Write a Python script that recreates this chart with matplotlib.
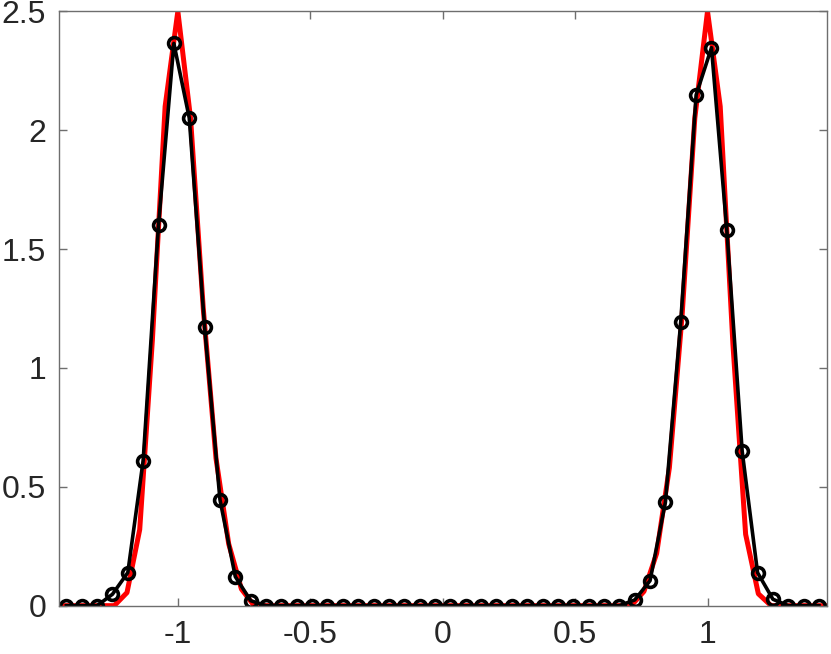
import numpy as np
import matplotlib
matplotlib.use('Agg')
import matplotlib.pyplot as plt

plt.rcParams['font.family'] = ['Liberation Sans', 'DejaVu Sans']
plt.rcParams['axes.unicode_minus'] = False

# reference solution (red)
red_x = [-1.45, -1.24, -1.192, -1.144, -1.096, -1.048, -1.0, -0.952, -0.904, -0.856, -0.808, -0.76, -0.712,
         0.712, 0.76, 0.808, 0.856, 0.904, 0.952, 1.0, 1.048, 1.096, 1.144, 1.192, 1.24, 1.45]
red_y = [0.0, 0.0, 0.055, 0.32, 1.12, 2.1, 2.5, 2.05, 1.25, 0.62, 0.26, 0.07, 0.0,
         0.0, 0.06, 0.22, 0.58, 1.22, 2.05, 2.5, 2.1, 1.1, 0.3, 0.05, 0.0, 0.0]

# numerical solution (black circles), 50 cell centres
num_y = [0.0, 0.0, 0.0, 0.048, 0.139, 0.610, 1.601, 2.365, 2.052, 1.173,
         0.446, 0.122, 0.021, 0.0, 0.0, 0.0, 0.0, 0.0, 0.0, 0.0,
         0.0, 0.0, 0.0, 0.0, 0.0, 0.0, 0.0, 0.0, 0.0, 0.0,
         0.0, 0.0, 0.0, 0.0, 0.0, 0.0, 0.0, 0.024, 0.105, 0.435,
         1.195, 2.148, 2.347, 1.579, 0.649, 0.139, 0.027, 0.0, 0.0, 0.0]
num_x = np.linspace(-1.421, 1.421, len(num_y))

xticks = [-1, -0.5, 0, 0.5, 1]
xticklabels = ['-1', '-0.5', '0', '0.5', '1']
yticks = [0, 0.5, 1, 1.5, 2, 2.5]
yticklabels = ['0', '0.5', '1', '1.5', '2', '2.5']

fig = plt.figure(figsize=(8.31, 6.54), dpi=100)
ax = fig.add_axes([0.0706, 0.0739, 0.9242, 0.9088])

ax.plot(red_x, red_y, color='red', linewidth=3.6)
ax.plot(num_x, num_y, color='black', linewidth=2.6, marker='o',
        markersize=8.5, markerfacecolor='none', markeredgewidth=2.6)

ax.set_xlim(-1.45, 1.45)
ax.set_ylim(0, 2.5)
ax.set_xticks(xticks)
ax.set_xticklabels(xticklabels)
ax.set_yticks(yticks)
ax.set_yticklabels(yticklabels)

for s in ax.spines.values():
    s.set_color('#6e6e6e')
    s.set_linewidth(1.0)
ax.tick_params(direction='in', length=6, width=1.0, color='#6e6e6e',
               labelcolor='#262626', labelsize=23, top=True, right=True)
ax.tick_params(axis='x', pad=10)
ax.tick_params(axis='y', pad=9)

fig.savefig('out.png', dpi=100)
